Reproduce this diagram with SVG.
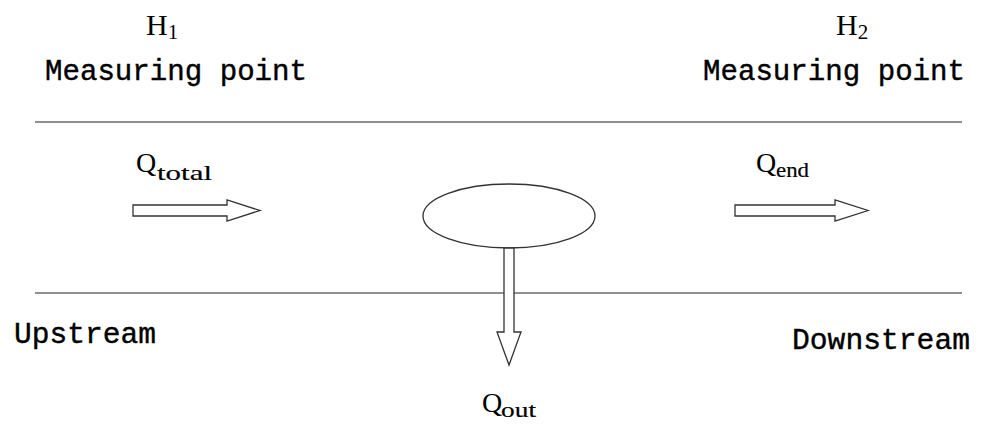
<svg xmlns="http://www.w3.org/2000/svg" width="986" height="425" viewBox="0 0 986 425">
<style>
.mono{font-family:"Liberation Mono","DejaVu Sans Mono",monospace;font-size:29px;fill:#000;stroke:#000;stroke-width:0.4}
.ser{font-family:"Liberation Serif","Times New Roman",serif;fill:#000}
.big{font-size:30px}
.qb{font-size:28px}
.sub{font-size:21px}
.ssub{font-family:"Liberation Serif","Times New Roman",serif;font-size:22px;stroke:#000;stroke-width:0.2}
.line{stroke:#222;stroke-width:1.2;fill:none}
.arr{fill:#fff;stroke:#333;stroke-width:1.3;stroke-linejoin:miter}
</style>
<rect width="986" height="425" fill="#fff"/>
<g id="channel">
<line class="line" x1="35" y1="122" x2="962" y2="122"/>
<line class="line" x1="35" y1="293" x2="962" y2="293"/>
</g>
<g id="h1">
<text class="ser" x="146" y="35"><tspan class="big">H</tspan><tspan class="sub" dy="4">1</tspan></text>
<text class="mono" x="45" y="80" textLength="262" lengthAdjust="spacingAndGlyphs">Measuring point</text>
</g>
<g id="h2">
<text class="ser" x="836" y="35"><tspan class="big">H</tspan><tspan class="sub" dy="4">2</tspan></text>
<text class="mono" x="703" y="80" textLength="262" lengthAdjust="spacingAndGlyphs">Measuring point</text>
</g>
<g id="upstream"><text class="mono" x="14" y="343" textLength="142" lengthAdjust="spacingAndGlyphs">Upstream</text></g>
<g id="downstream"><text class="mono" x="792" y="349" textLength="178" lengthAdjust="spacingAndGlyphs">Downstream</text></g>
<g id="node-ellipse"><ellipse class="arr" cx="509" cy="216" rx="86" ry="32"/></g>
<g id="qtotal-label"><text class="ser" x="136" y="172"><tspan class="qb">Q</tspan><tspan class="ssub" x="157" y="180" textLength="55" lengthAdjust="spacingAndGlyphs">total</tspan></text></g>
<g id="qend-label"><text class="ser" x="756" y="172"><tspan class="qb">Q</tspan><tspan class="ssub" x="776" y="177" textLength="33" lengthAdjust="spacingAndGlyphs">end</tspan></text></g>
<g id="qout-label"><text class="ser" x="482" y="412"><tspan class="qb">Q</tspan><tspan class="ssub" x="501" y="417" textLength="35" lengthAdjust="spacingAndGlyphs">out</tspan></text></g>
<g id="connectors">
<polygon class="arr" points="133,205 227,205 227,200 260,210.5 227,221 227,216 133,216"/>
<polygon class="arr" points="735,205 835,205 835,200 868,210.5 835,221 835,216 735,216"/>
<polygon class="arr" points="504,248 514,248 514,332 521,332 509,365 497,332 504,332"/>
</g>
</svg>
